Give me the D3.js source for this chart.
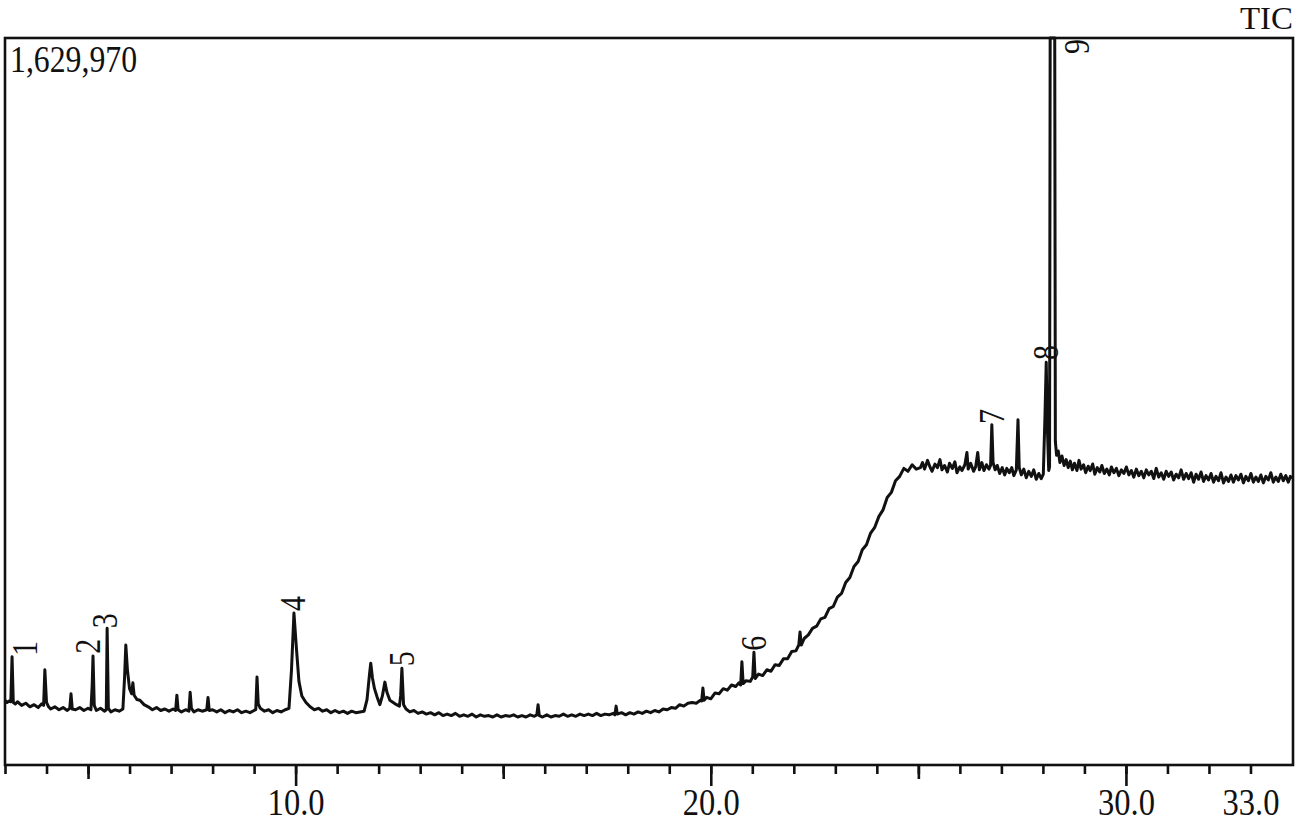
<!DOCTYPE html>
<html>
<head>
<meta charset="utf-8">
<script src="https://cdn.jsdelivr.net/npm/d3@7"></script>
<style>
  body { margin: 0; background: #fff; }
  svg { display: block; font-family: "Liberation Serif", "Times New Roman", serif; }
</style>
</head>
<body>
<div id="chart"></div>
<script>
var width = 1300,
    height = 824;

// retention time (min), intensity (% of full scale 1,629,970)
var traceEarly = [
  [3.00,8.9],[3.05,8.6],[3.10,8.8],[3.14,8.7],[3.17,14.9],[3.20,8.6],[3.25,8.4],[3.30,8.7],[3.40,8.2],[3.50,8.5],
  [3.60,8.0],[3.70,8.3],[3.80,7.9],[3.88,8.4],[3.93,8.2],[3.96,13.1],[4.00,8.6],[4.05,8.0],[4.10,7.7],[4.20,8.0],
  [4.30,7.6],[4.40,7.9],[4.50,7.5],[4.56,7.8],[4.59,9.8],[4.62,7.7],[4.70,7.6],[4.80,7.9],[4.90,7.5],[5.00,7.8],
  [5.07,7.6],[5.10,11.0],[5.12,15.0],[5.15,8.2],[5.20,7.5],[5.30,7.8],[5.40,7.4],[5.44,7.6],[5.46,18.8],[5.49,7.8],
  [5.55,7.3],[5.65,7.6],[5.75,7.4],[5.84,7.7],[5.88,12.0],[5.91,16.5],[5.95,13.0],[6.00,10.5],[6.05,9.8],[6.08,11.3],
  [6.11,9.6],[6.18,9.0],[6.25,8.9],[6.35,8.3],[6.45,8.0],[6.55,7.6],[6.65,7.9],[6.75,7.5],[6.85,7.7],[6.95,7.4],
  [7.05,7.7],[7.11,7.5],[7.14,9.6],[7.17,7.6],[7.25,7.3],[7.35,7.6],[7.43,7.4],[7.46,10.0],[7.49,7.8],[7.55,7.3],
  [7.65,7.6],[7.75,7.4],[7.86,7.6],[7.89,9.3],[7.92,7.5],[8.00,7.6],[8.10,7.3],[8.20,7.6],[8.30,7.2],[8.40,7.5],
  [8.50,7.3],[8.60,7.6],[8.70,7.2],[8.80,7.4],[8.90,7.2],[9.00,7.5],[9.04,7.6],[9.07,12.1],[9.10,8.4],[9.15,7.8],
  [9.25,7.4],[9.35,7.6],[9.45,7.2],[9.55,7.5],[9.65,7.3],[9.75,7.6],[9.84,7.8],[9.90,13.0],[9.96,20.9],[10.02,16.0],
  [10.08,11.5],[10.15,9.5],[10.25,8.6],[10.35,8.0],[10.45,7.6],[10.55,7.8],[10.65,7.4],[10.75,7.6],[10.85,7.2]
];

var traceMid = [
  [10.95,7.5],[11.05,7.2],[11.15,7.4],[11.25,7.1],[11.35,7.4],[11.45,7.2],[11.55,7.3],[11.65,7.4],[11.72,9.0],[11.78,12.5],
  [11.81,14.0],[11.85,12.0],[11.90,10.5],[11.96,9.4],[12.03,8.3],[12.09,9.5],[12.15,11.4],[12.20,10.0],[12.27,8.9],[12.35,8.6],
  [12.43,8.3],[12.50,8.1],[12.53,9.5],[12.56,13.3],[12.60,8.3],[12.66,7.7],[12.75,7.3],[12.85,7.5],[12.95,7.1],[13.05,7.3],
  [13.15,7.0],[13.25,7.2],[13.35,6.9],[13.45,7.2],[13.55,6.8],[13.65,7.0],[13.75,6.8],[13.85,7.1],[13.95,6.7],[14.05,6.9],
  [14.15,6.7],[14.25,7.0],[14.35,6.6],[14.45,6.9],[14.55,6.7],[14.65,6.8],[14.75,6.6],[14.85,6.9],[14.95,6.6],[15.05,6.8],
  [15.15,6.7],[15.25,6.9],[15.35,6.6],[15.45,6.8],[15.55,6.6],[15.65,6.9],[15.75,6.7],[15.81,6.9],[15.84,8.3],[15.87,6.8],
  [15.95,6.6],[16.05,6.9],[16.15,6.6],[16.25,6.8],[16.35,6.7],[16.45,7.0],[16.55,6.7],[16.65,6.9],[16.75,6.7],[16.85,7.0],
  [16.95,6.8],[17.05,7.0],[17.15,6.8],[17.25,7.1],[17.35,6.8],[17.45,7.0],[17.55,6.9],[17.65,7.1],[17.69,6.9],[17.72,8.1],
  [17.75,7.0],[17.85,7.2],[17.95,6.9],[18.05,7.2],[18.15,7.0],[18.25,7.3],[18.35,7.1],[18.45,7.4],[18.55,7.2],[18.65,7.5],
  [18.75,7.3],[18.85,7.7],[18.95,7.6],[19.05,7.9],[19.15,7.8],[19.25,8.3],[19.35,8.1],[19.45,8.5]
];

var traceRamp = [
  [19.55,8.6],[19.65,8.5],[19.75,8.9],[19.78,8.8],[19.81,10.6],[19.84,8.9],[19.90,9.3],[20.00,9.1],[20.10,9.9],[20.20,9.8],
  [20.30,10.5],[20.40,10.3],[20.50,11.0],[20.60,10.8],[20.68,11.3],[20.72,11.0],[20.75,14.2],[20.78,11.2],[20.85,11.6],[20.95,11.5],
  [21.01,12.1],[21.04,15.5],[21.07,11.9],[21.15,12.5],[21.25,12.3],[21.35,13.1],[21.45,12.9],[21.55,13.8],[21.65,13.7],[21.75,14.6],
  [21.85,14.6],[21.95,15.6],[22.05,15.7],[22.12,16.5],[22.15,18.3],[22.18,16.5],[22.25,17.4],[22.35,17.9],[22.45,18.8],[22.55,19.1],
  [22.65,20.1],[22.75,20.3],[22.85,21.5],[22.95,21.8],[23.05,23.1],[23.15,23.6],[23.25,25.1],[23.35,25.8],[23.45,27.3],[23.55,28.0],
  [23.65,29.6],[23.75,30.3],[23.85,31.9],[23.95,32.7],[24.05,34.2],[24.15,35.1],[24.25,36.8],[24.35,37.5],[24.45,39.1],[24.55,39.7],
  [24.65,40.8],[24.75,40.4],[24.85,41.3],[24.95,40.7]
];

var tracePlateau = [
  [25.05,40.9],[25.10,41.6],[25.15,40.7],[25.22,41.9],[25.28,41.0],[25.33,40.4],[25.40,41.4],[25.46,40.9],[25.52,42.0],[25.57,40.6],
  [25.63,41.2],[25.70,40.3],[25.75,41.5],[25.82,40.8],[25.88,41.7],[25.93,40.2],[26.00,41.0],[26.05,40.5],[26.12,41.3],[26.17,43.0],
  [26.20,40.7],[26.26,41.5],[26.33,40.4],[26.38,41.0],[26.43,43.0],[26.47,40.6],[26.53,41.6],[26.58,40.5],[26.64,41.3],[26.70,40.7],
  [26.74,41.2],[26.77,46.8],[26.80,41.6],[26.85,40.6],[26.90,41.2],[26.96,40.1],[27.02,40.9],[27.08,39.9],[27.13,40.8],[27.19,40.2],
  [27.25,40.9],[27.30,39.8],[27.36,40.6],[27.40,47.5],[27.43,40.9],[27.48,39.9],[27.54,40.7],[27.60,39.5],[27.66,40.4],[27.72,39.7],
  [27.78,40.6],[27.84,39.3],[27.90,40.1],[27.96,39.4],[28.01,40.0],[28.05,48.0],[28.08,55.4],[28.11,46.0],[28.14,40.5],[28.16,41.0],
  [28.175,100],[28.285,100],[28.30,44.5],[28.33,42.6],[28.37,43.2],[28.41,41.6],[28.46,42.5],[28.51,41.2],[28.56,42.0],[28.61,40.9],
  [28.66,41.8],[28.71,40.6],[28.76,41.5],[28.82,40.5],[28.87,41.9],[28.92,40.7],[28.98,41.3],[29.03,40.2],[29.09,41.1],[29.14,40.5],
  [29.20,41.4],[29.25,40.0],[29.31,40.9],[29.37,40.3],[29.42,41.2],[29.48,40.1],[29.54,40.7],[29.60,39.9],[29.65,41.0],[29.71,40.2],
  [29.77,40.8],[29.83,39.8],[29.89,40.6],[29.95,40.1],[30.01,41.0],[30.07,39.9],[30.13,40.5],[30.19,39.6],[30.25,40.7],[30.31,39.8],
  [30.37,40.4],[30.43,39.5],[30.49,40.6],[30.55,39.9],[30.61,40.4],[30.67,39.4],[30.73,40.8],[30.79,39.6],[30.85,40.2],[30.91,39.3],
  [30.97,40.4],[31.03,39.7],[31.09,40.3],[31.15,39.2],[31.21,40.0],[31.27,39.5],[31.33,40.6],[31.39,39.3],[31.45,40.1],[31.51,39.4],
  [31.57,40.2],[31.63,38.9],[31.69,40.0],[31.75,39.3],[31.81,40.3],[31.87,39.0],[31.93,39.8],[31.99,39.2],[32.05,40.1],[32.11,38.9],
  [32.17,39.7],[32.23,39.1],[32.29,40.2],[32.35,38.8],[32.41,39.6],[32.47,39.0],[32.53,39.9],[32.59,38.9],[32.65,39.8],[32.71,39.2],
  [32.77,40.0],[32.83,38.8],[32.89,39.7],[32.95,39.1],[33.01,40.1],[33.07,38.9],[33.13,39.6],[33.19,39.0],[33.25,39.9],[33.31,38.8],
  [33.37,39.7],[33.43,39.2],[33.49,40.2],[33.55,38.9],[33.61,39.6],[33.67,39.0],[33.73,40.0],[33.79,39.1],[33.85,39.8],[33.91,38.9],
  [33.96,39.7],[34.00,39.4]
];

// peak numbers: name, time, intensity where the label starts
var peakNames = ["1", "2", "3", "4", "5", "6", "7", "8", "9"];
var peakTimes = [3.48, 5.00, 5.41, 9.94, 12.56, 21.04, 26.77, 28.07, 28.82];
var peakLevels = [15.0, 15.3, 18.8, 21.2, 13.6, 15.7, 46.9, 55.7, 97.8];

var minorTicks = d3.range(3, 34, 1);
var midTicks = [5, 15, 25];
var majorTicks = [10, 20, 30];
var tickLabels = [10, 20, 30, 33];

var fullScale = "1,629,970";
var traceName = "TIC";

var trace = traceEarly.concat(traceMid, traceRamp, tracePlateau);

var x = d3.scaleLinear()
    .domain([3.0, 34.0])
    .range([5, 1292]);

var y = d3.scaleLinear()
    .domain([0, 100])
    .range([765, 38]);

var svg = d3.select("#chart").append("svg")
    .attr("width", width)
    .attr("height", height);

svg.append("rect")
    .attr("width", width)
    .attr("height", height)
    .attr("fill", "#fff");

// frame
svg.append("rect")
    .attr("x", x.range()[0])
    .attr("y", y.range()[1])
    .attr("width", 1293 - x.range()[0])
    .attr("height", y.range()[0] - y.range()[1])
    .attr("fill", "none")
    .attr("stroke", "#111")
    .attr("stroke-width", 2.6);

// ticks
function tickAxis(values, size) {
  var g = svg.append("g")
      .attr("transform", "translate(0," + y.range()[0] + ")")
      .call(d3.axisBottom(x).tickValues(values).tickSize(size).tickFormat(""));
  g.select(".domain").remove();
  g.selectAll("line").attr("stroke", "#111").attr("stroke-width", 2.6);
  return g;
}
tickAxis(minorTicks, 9);
tickAxis(midTicks, 14);
tickAxis(majorTicks, 21);

var labelAxis = svg.append("g")
    .attr("transform", "translate(0," + y.range()[0] + ")")
    .call(d3.axisBottom(x).tickValues(tickLabels).tickSize(0).tickPadding(24).tickFormat(d3.format(".1f")));
labelAxis.select(".domain").remove();
labelAxis.attr("font-family", null).attr("font-size", null);
labelAxis.selectAll("text")
    .attr("fill", "#111")
    .style("font-size", "37px")
    .attr("textLength", 57)
    .attr("lengthAdjust", "spacingAndGlyphs");

// chromatogram
var line = d3.line()
    .x(function(d) { return x(d[0]); })
    .y(function(d) { return y(d[1]); });

svg.append("path")
    .datum(trace)
    .attr("d", line)
    .attr("fill", "none")
    .attr("stroke", "#111")
    .attr("stroke-width", 3)
    .attr("stroke-linejoin", "round");

// peak numbers, rotated
svg.selectAll("text.peak")
    .data(peakNames)
    .enter().append("text")
    .attr("class", "peak")
    .attr("x", function(d, i) { return x(peakTimes[i]); })
    .attr("y", function(d, i) { return y(peakLevels[i]); })
    .attr("transform", function(d, i) {
      return "rotate(-90," + x(peakTimes[i]) + "," + y(peakLevels[i]) + ")";
    })
    .attr("dominant-baseline", "central")
    .attr("fill", "#111")
    .style("font-size", "36px")
    .attr("textLength", 15)
    .attr("lengthAdjust", "spacingAndGlyphs")
    .text(function(d) { return d; });

svg.append("text")
    .attr("x", 10)
    .attr("y", 72)
    .attr("fill", "#111")
    .style("font-size", "37px")
    .attr("textLength", 127)
    .attr("lengthAdjust", "spacingAndGlyphs")
    .text(fullScale);

svg.append("text")
    .attr("x", 1293)
    .attr("y", 29)
    .attr("text-anchor", "end")
    .attr("fill", "#111")
    .style("font-size", "31px")
    .attr("textLength", 53)
    .attr("lengthAdjust", "spacingAndGlyphs")
    .text(traceName);
</script>
</body>
</html>
